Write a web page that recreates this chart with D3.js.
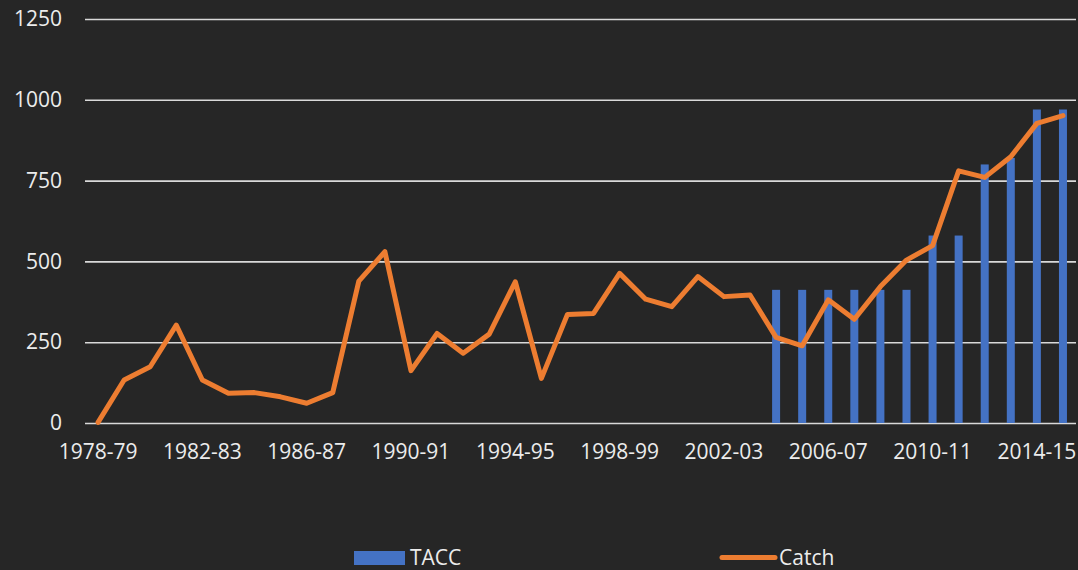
<!DOCTYPE html>
<html><head><meta charset="utf-8">
<script src="https://cdn.jsdelivr.net/npm/d3@7"></script>
<style>html,body{margin:0;padding:0;background:#262626;}svg{display:block;}</style>
</head><body>
<svg id="chart" width="1078" height="570"></svg>
<script>
const seasons = ["1978-79","1979-80","1980-81","1981-82","1982-83","1983-84","1984-85","1985-86","1986-87","1987-88","1988-89","1989-90","1990-91","1991-92","1992-93","1993-94","1994-95","1995-96","1996-97","1997-98","1998-99","1999-00","2000-01","2001-02","2002-03","2003-04","2004-05","2005-06","2006-07","2007-08","2008-09","2009-10","2010-11","2011-12","2012-13","2013-14","2014-15","2015-16"];
const catchValues = [2,133,174,303,133,92,94,81,61,94,439,530,162,277,216,275,437,138,336,339,463,383,360,453,391,396,265,239,381,321,422,504,549,780,760,824,927,951];
const taccSeasons = ["2004-05","2005-06","2006-07","2007-08","2008-09","2009-10","2010-11","2011-12","2012-13","2013-14","2014-15","2015-16"];
const taccValues = [412,412,412,412,412,412,580,580,800,820,970,970];
const yTicks = [0,250,500,750,1000,1250];
const xLabelSeasons = ["1978-79","1982-83","1986-87","1990-91","1994-95","1998-99","2002-03","2006-07","2010-11","2014-15"];

(function(){
const svg = d3.select("#chart");
const mLeft = 85, mRight = 1076, mTop = 19, mBottom = 423;
const font = "'Open Sans', sans-serif";
const textColor = "#ececec";
const fs = "21px";

svg.append("rect").attr("width",1078).attr("height",570).attr("fill","#262626");

const x = d3.scaleBand().domain(seasons).range([mLeft,mRight]).padding(0);
const y = d3.scaleLinear().domain([0,1250]).range([mBottom,mTop]);

const yAxis = d3.axisLeft(y).tickValues(yTicks).tickFormat(d3.format("d")).tickSize(-(mRight-mLeft)).tickPadding(23);
const gy = svg.append("g").attr("transform",`translate(${mLeft},0)`).call(yAxis);
gy.select(".domain").remove();
gy.selectAll(".tick line").attr("stroke","#d9d9d9").attr("stroke-width",1.6);
gy.selectAll(".tick text").attr("fill",textColor).style("font-family",font).style("font-size",fs);

const xAxis = d3.axisBottom(x).tickValues(xLabelSeasons).tickSize(0).tickPadding(21);
const gx = svg.append("g").attr("transform",`translate(0,${mBottom})`).call(xAxis);
gx.select(".domain").remove();
gx.selectAll(".tick text").attr("fill",textColor).style("font-family",font).style("font-size",fs);

const barW = 8;
svg.append("g").selectAll("rect").data(taccSeasons.map((s,i)=>({s,v:taccValues[i]}))).join("rect")
  .attr("x",d=>x(d.s)+x.bandwidth()/2-barW/2)
  .attr("width",barW)
  .attr("y",d=>y(d.v))
  .attr("height",d=>y(0)-y(d.v))
  .attr("fill","#4472c4");

const line = d3.line().x((d,i)=>x(seasons[i])+x.bandwidth()/2).y(d=>y(d));
svg.append("path").datum(catchValues).attr("d",line)
  .attr("fill","none").attr("stroke","#ed7d31").attr("stroke-width",5)
  .attr("stroke-linejoin","round").attr("stroke-linecap","round");

const lg = svg.append("g");
lg.append("rect").attr("x",354).attr("y",551).attr("width",51).attr("height",14).attr("fill","#4472c4");
lg.append("text").attr("x",410).attr("y",565).text("TACC").attr("fill",textColor).style("font-family",font).style("font-size",fs);
lg.append("line").attr("x1",722).attr("x2",775).attr("y1",557.5).attr("y2",557.5).attr("stroke","#ed7d31").attr("stroke-width",5).attr("stroke-linecap","round");
lg.append("text").attr("x",779).attr("y",565).text("Catch").attr("fill",textColor).style("font-family",font).style("font-size",fs);
})();
</script>
</body></html>
